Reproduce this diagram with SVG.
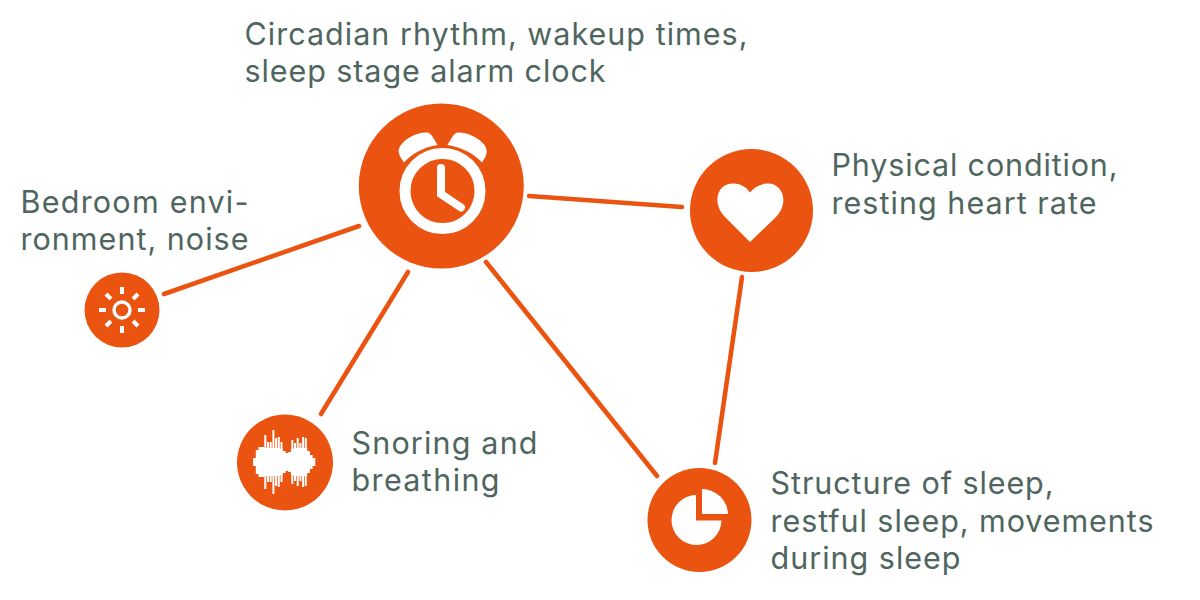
<svg xmlns="http://www.w3.org/2000/svg" width="1200" height="600" viewBox="0 0 1200 600">
<style>
.n{fill:#eb5310}
.i{fill:#fff}
.t{font-family:"Inter","Lato","Liberation Sans",sans-serif;font-size:30.5px;font-weight:400;fill:#4f6660}
.c line{stroke:#eb5310;stroke-width:4.6;stroke-linecap:round}
</style>
<rect width="1200" height="600" fill="#fff"/>
<g class="c" id="connectors">
<line x1="359" y1="226" x2="164" y2="294"/>
<line x1="408" y1="272" x2="321" y2="414"/>
<line x1="486" y1="262" x2="657" y2="476"/>
<line x1="529" y1="196" x2="682" y2="207"/>
<line x1="742" y1="277" x2="715" y2="463"/>
</g>
<g id="node-clock">
<circle class="n" cx="441.300" cy="186" r="82.500"/>
<path class="i" d="M404 162.500C398 154 397 150 401 145C407 137 418 132 427 132.500C431 133 433 137 437.500 145C424 147 413 153 404 162.500Z"/>
<path class="i" d="M482 162.500C488 154 487.500 150 484.500 145C478 137 467 132 458 132.500C454 133 452 137 447.500 145C461 147 473 153 482 162.500Z"/>
<circle cx="442.500" cy="191" r="37.500" fill="none" stroke="#fff" stroke-width="11"/>
<path d="M441 168V194L461 207.500" fill="none" stroke="#fff" stroke-width="8" stroke-linejoin="miter" stroke-linecap="round"/>
</g>
<g id="node-heart">
<circle class="n" cx="751.500" cy="210.500" r="61.500"/>
<path class="i" d="M750 242L725 217C712 204 716 183 734 183.500C741 184 746 187 750 192.500C754 187 760 184 767 183.500C784 183 789 204 776 217Z"/>
</g>
<g id="node-sun">
<circle class="n" cx="122" cy="310" r="37.500"/>
<circle cx="122" cy="310" r="8" fill="none" stroke="#fff" stroke-width="3.400"/>
<path d="M122 287v7M122 326v7M99 310h7M138 310h7M106 294l5 5M133 321l5 5M138 294l-5 5M111 321l-5 5" fill="none" stroke="#fff" stroke-width="4"/>
</g>
<g id="node-wave">
<circle class="n" cx="285" cy="462.500" r="48"/>
<path fill="none" stroke="#fff" stroke-width="2.800" d="M254.500 458v8M257.200 450v24M259.900 447v30M262.600 447v30M265.300 448v28M268 448v28M270.700 448v28M273.400 448v28M276.100 448v28M278.800 448v28M281.500 449v26M284.200 451v22M286.900 453v18M289.600 452v20M292.300 449v26M295 448v28M297.700 448v28M300.400 448v28M303.100 448v28M305.800 448v28M308.500 451v22M311.200 455v14M313.900 458v8"/>
<path fill="none" stroke="#fff" stroke-width="2" d="M265.300 435v54M268 442v40M270.700 442v40M273.400 430v64M276.100 438v48M278.800 437v50M281.500 442v40M292.300 440v44M295 443v38M297.700 438v48M300.400 443v38M303.100 437v50M305.800 438v48"/>
</g>
<g id="node-pie">
<circle class="n" cx="699.500" cy="520" r="52"/>
<path class="i" d="M696 495V520.500H721.500A25 25 0 1 1 696 495Z"/>
<path class="i" d="M702 489V514H728A26 26 0 0 0 702 489Z"/>
</g>
<g id="labels">
<text class="t" x="244.500" y="45" textLength="503">Circadian rhythm, wakeup times,</text>
<text class="t" x="244.500" y="82" textLength="361">sleep stage alarm clock</text>
<text class="t" x="20.500" y="213" textLength="228">Bedroom envi-</text>
<text class="t" x="20.500" y="250" textLength="228">ronment, noise</text>
<text class="t" x="831.500" y="176" textLength="286">Physical condition,</text>
<text class="t" x="831.500" y="214" textLength="265">resting heart rate</text>
<text class="t" x="351.500" y="454" textLength="186">Snoring and</text>
<text class="t" x="351.500" y="491" textLength="148">breathing</text>
<text class="t" x="770.500" y="494" textLength="283">Structure of sleep,</text>
<text class="t" x="770.500" y="532" textLength="383">restful sleep, movements</text>
<text class="t" x="770.500" y="569" textLength="190">during sleep</text>
</g>
</svg>
